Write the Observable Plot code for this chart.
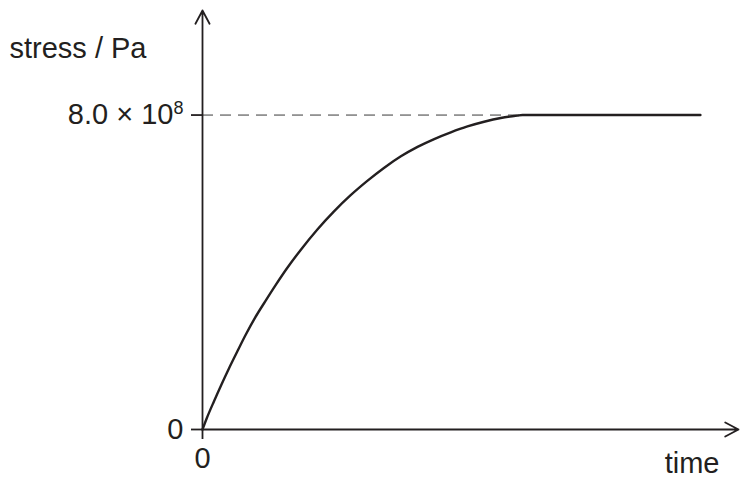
<!DOCTYPE html>
<html><head><meta charset="utf-8">
<script src="https://cdn.jsdelivr.net/npm/d3@7"></script>
<script src="https://cdn.jsdelivr.net/npm/@observablehq/plot@0.6"></script>
<style>html,body{margin:0;padding:0;background:#fff;}</style>
</head><body><div id="chart"></div>
<script>
// time (arbitrary units) and stress (units of 10^8 Pa)
const time   = [0, 0.13, 0.36, 0.59, 0.83, 1.09, 1.35, 1.64, 1.96, 2.29, 2.63, 3.05, 3.59, 4.11, 4.63, 5.16, 5.68, 6.20, 6.72, 7.24, 7.76, 8.28, 8.80, 9.32, 9.84, 10.0, 15.56];
const stress = [0, 0.28, 0.72, 1.14, 1.56, 1.99, 2.41, 2.84, 3.26, 3.68, 4.09, 4.55, 5.09, 5.55, 5.96, 6.33, 6.66, 6.95, 7.19, 7.39, 7.56, 7.71, 7.83, 7.925, 7.985, 8.0, 8.0];
const plateauStress = [8];
const plateauStart = 10;
const yTicks = [0, 8];
const yTickText = ["0", "8.0 × 10"];
const yTickExponent = ["", "8"];
const xTicks = [0];
const xTickText = ["0"];
const xAxisEnd = 16.75;
const yAxisEnd = 10.66;
const yLabel = ["stress / Pa"];
const xLabel = ["time"];

const ink = "#231f20";
const data = time.map((t, i) => ({time: t, stress: stress[i]}));
const axesLines = [
  {x1: 0, y1: 0, x2: 0, y2: yAxisEnd},
  {x1: 0, y1: 0, x2: xAxisEnd, y2: 0}
];

const chart = Plot.plot({
  width: 745, height: 483,
  marginLeft: 202, marginRight: 7, marginTop: 10, marginBottom: 54,
  style: {fontFamily: '"Liberation Sans", Arial, sans-serif', fontSize: "29px", color: ink, background: "#fff"},
  x: {domain: [0, xAxisEnd]},
  y: {domain: [0, yAxisEnd]},
  marks: [
    Plot.ruleY(plateauStress, {x1: 0, x2: plateauStart, stroke: "#3a3a3a", strokeWidth: 1, strokeDasharray: "11,7"}),
    Plot.arrow(axesLines, {x1: "x1", y1: "y1", x2: "x2", y2: "y2", stroke: ink, strokeWidth: 1.8, headLength: 12.5, headAngle: 56}),
    Plot.line(data, {x: "time", y: "stress", curve: "monotone-x", stroke: ink, strokeWidth: 2.4}),
    Plot.axisY({ticks: yTicks, tickSize: 11, tickPadding: 8, strokeWidth: 1.8, label: null, fontSize: 29,
      tickFormat: d => yTickText[yTicks.indexOf(d)]}),
    Plot.axisX({ticks: xTicks, tickSize: 10, tickPadding: 8, strokeWidth: 1.8, label: null, fontSize: 29,
      tickFormat: d => xTickText[xTicks.indexOf(d)]}),
    Plot.text(yLabel, {text: d => d, frameAnchor: "top-left", textAnchor: "start", dx: -193, dy: 27.4, fill: ink, fontSize: 29}),
    Plot.text(xLabel, {text: d => d, frameAnchor: "bottom-right", textAnchor: "end", dx: -19, dy: 43.4, fill: ink, fontSize: 29})
  ]
});
document.getElementById("chart").appendChild(chart);

// superscript exponent on tick labels
d3.select(chart).selectAll("text").each(function() {
  const i = yTickText.indexOf(this.textContent);
  if (i >= 0 && yTickExponent[i]) {
    d3.select(this).append("tspan").attr("dy", "-10").attr("font-size", "18").text(yTickExponent[i]);
  }
});
</script>
</body></html>
